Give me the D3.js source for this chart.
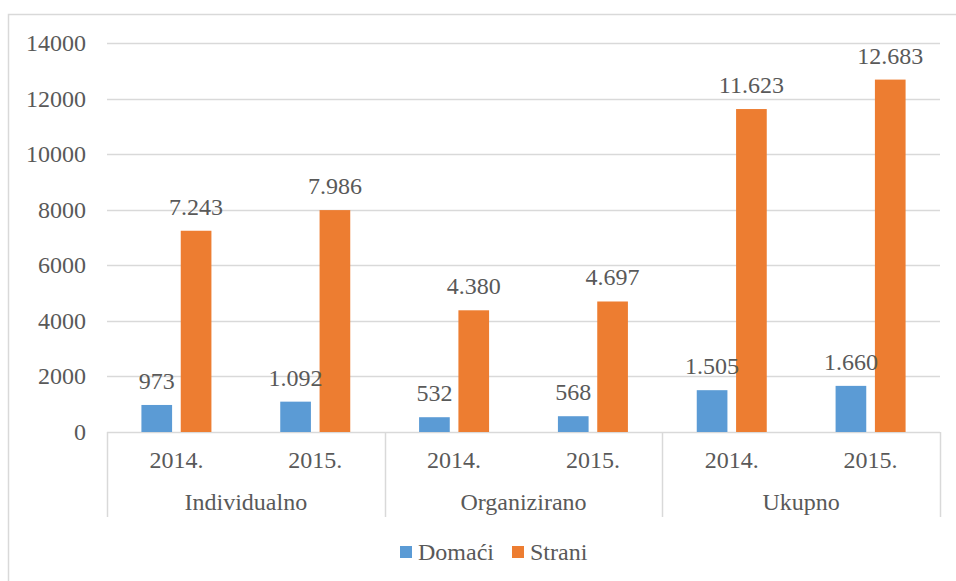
<!DOCTYPE html>
<html>
<head>
<meta charset="utf-8">
<script src="https://cdn.jsdelivr.net/npm/d3@7"></script>
</head>
<body style="margin:0">
<svg id="chart" width="956" height="581"></svg>
<script>
const groups = ["Individualno", "Organizirano", "Ukupno"];
const years = ["2014.", "2015."];
const domaci = [973, 1092, 532, 568, 1505, 1660];
const strani = [7243, 7986, 4380, 4697, 11623, 12683];
const yTicks = [0, 2000, 4000, 6000, 8000, 10000, 12000, 14000];
const seriesNames = ["Domaći", "Strani"];
const seriesColors = ["#5b9bd5", "#ed7d31"];

const width = 956;
const height = 581;
const margin = { top: 43, right: 16, bottom: 149, left: 107 };
const fontSize = 24;
const gridColor = "#d9d9d9";
const textColor = "#595959";

const svg = d3.select("#chart");

// shared text style, set on every label
const styleText = (sel) =>
  sel.style("font-family", (d) => `"Times New Roman", monospace`)
    .attr("font-size", fontSize)
    .style("fill", textColor);

// outer frame (chart area border, cut by the window on right and bottom)
svg.append("path")
  .attr("d", `M8.5,${height + 5} V14.5 H${width + 5}`)
  .attr("fill", "none")
  .attr("stroke", gridColor)
  .attr("stroke-width", 1.5);

const slots = [];
groups.forEach((g) => years.forEach((yr) => slots.push(`${g}|${yr}`)));

const x = d3.scaleBand()
  .domain(slots)
  .range([margin.left, width - margin.right]);

const xGroup = d3.scaleBand()
  .domain(groups)
  .range([margin.left, width - margin.right]);

const xInner = d3.scaleBand()
  .domain(seriesNames)
  .range([x.bandwidth() / 2 - 35, x.bandwidth() / 2 + 35])
  .paddingInner(0.22);

const y = d3.scaleLinear()
  .domain([0, 14000])
  .range([height - margin.bottom, margin.top]);

// gridlines
svg.append("g")
  .selectAll("line")
  .data(yTicks)
  .join("line")
  .attr("x1", margin.left)
  .attr("x2", width - margin.right)
  .attr("y1", (d) => Math.round(y(d)) + 0.5)
  .attr("y2", (d) => Math.round(y(d)) + 0.5)
  .attr("stroke", gridColor)
  .attr("stroke-width", 1.5);

// y tick labels
svg.append("g")
  .selectAll("text")
  .data(yTicks)
  .join("text")
  .attr("x", margin.left - 21)
  .attr("y", (d) => y(d) + 8)
  .attr("text-anchor", "end")
  .call(styleText)
  .text((d) => d);

// bars
const barData = slots.map((s, i) => ({ slot: s, values: [domaci[i], strani[i]] }));

const slotG = svg.append("g")
  .selectAll("g")
  .data(barData)
  .join("g")
  .attr("transform", (d) => `translate(${x(d.slot)},0)`);

slotG.selectAll("rect")
  .data((d) => d.values.map((v, k) => ({ name: seriesNames[k], value: v, color: seriesColors[k] })))
  .join("rect")
  .attr("x", (d) => xInner(d.name))
  .attr("y", (d) => y(d.value))
  .attr("width", xInner.bandwidth())
  .attr("height", (d) => y(0) - y(d.value))
  .attr("fill", (d) => d.color);

slotG.selectAll("text.val")
  .data((d) => d.values.map((v, k) => ({ name: seriesNames[k], value: v })))
  .join("text")
  .attr("class", "val")
  .attr("x", (d) => xInner(d.name) + xInner.bandwidth() / 2)
  .attr("y", (d) => y(d.value) - 16)
  .attr("text-anchor", "middle")
  .call(styleText)
  .text((d) => d3.format(",")(d.value).replace(/,/g, "."));

// category axis: year labels
svg.append("g")
  .selectAll("text")
  .data(slots)
  .join("text")
  .attr("x", (d) => x(d) + x.bandwidth() / 2)
  .attr("y", y(0) + 36)
  .attr("text-anchor", "middle")
  .call(styleText)
  .text((d) => d.split("|")[1]);

// group labels
svg.append("g")
  .selectAll("text")
  .data(groups)
  .join("text")
  .attr("x", (d) => xGroup(d) + xGroup.bandwidth() / 2)
  .attr("y", y(0) + 78)
  .attr("text-anchor", "middle")
  .call(styleText)
  .text((d) => d);

// group separators
const sepX = groups.map((g) => xGroup(g)).concat([width - margin.right]);
svg.append("g")
  .selectAll("line")
  .data(sepX)
  .join("line")
  .attr("x1", (d) => Math.round(d) + 0.5)
  .attr("x2", (d) => Math.round(d) + 0.5)
  .attr("y1", y(0))
  .attr("y2", y(0) + 85)
  .attr("stroke", gridColor)
  .attr("stroke-width", 1.5);

// legend
const legendX = [400, 512];
const legend = svg.append("g")
  .selectAll("g")
  .data(seriesNames)
  .join("g")
  .attr("transform", (d, i) => `translate(${legendX[i]},546)`);

legend.append("rect")
  .attr("width", 12)
  .attr("height", 12)
  .attr("fill", (d, i) => seriesColors[i]);

legend.append("text")
  .attr("x", 18)
  .attr("y", 14)
  .call(styleText)
  .text((d) => d);
</script>
</body>
</html>
